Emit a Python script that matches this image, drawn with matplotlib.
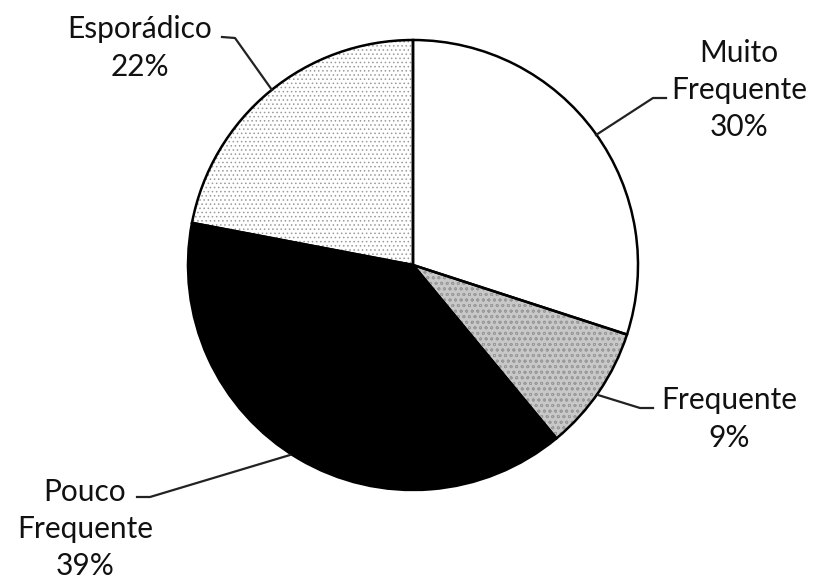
import matplotlib
matplotlib.use('agg')
import matplotlib.pyplot as plt

categories = ["Muito\nFrequente", "Frequente", "Pouco\nFrequente", "Esporádico"]
percents = [30, 9, 39, 22]

face_colors = ["white", "#c8c8c8", "black", "white"]
hatches = [None, "ooo", None, "...."]

# label text position and leader line points (pixel coords, y down)
text_pos = [(739, 90), (729, 419), (85, 529), (140, 48)]
leaders = [
    [(596, 135), (653, 98), (666, 98)],
    [(598, 395), (640, 408), (653, 408)],
    [(290, 455), (150, 497), (137, 497)],
    [(272, 90), (235, 38), (222, 37)],
]

W, H = 819, 586
plt.rcParams['font.family'] = ['Lato', 'DejaVu Sans']
plt.rcParams['hatch.linewidth'] = 0.6

fig = plt.figure(figsize=(W / 100, H / 100), dpi=100)
ax = fig.add_axes([0, 0, 1, 1])

center = (413, H - 265)
radius = 225

# fill + texture
wedges, _ = ax.pie(percents, colors=face_colors, startangle=90, counterclock=False,
                   center=center, radius=radius, frame=True,
                   wedgeprops=dict(linewidth=0, edgecolor="#9a9a9a"))
for w, h in zip(wedges, hatches):
    if h:
        w.set_hatch(h)
# outlines
ax.pie(percents, colors=["none"] * 4, startangle=90, counterclock=False,
       center=center, radius=radius, frame=True,
       wedgeprops=dict(linewidth=1.8, edgecolor="black", fill=False))
ax.set_xlim(0, W)
ax.set_ylim(0, H)
ax.set_aspect('equal')
ax.axis('off')

for cat, pct, (tx, ty), pts in zip(categories, percents, text_pos, leaders):
    ax.text(tx, H - ty, f"{cat}\n{pct}%", ha="center", va="center",
            fontsize=21.5, linespacing=1.4, color="#111111")
    xs = [p[0] for p in pts]
    ys = [H - p[1] for p in pts]
    ax.plot(xs, ys, color="#222222", lw=1.6)

fig.savefig("out.png", dpi=100, facecolor="white")
